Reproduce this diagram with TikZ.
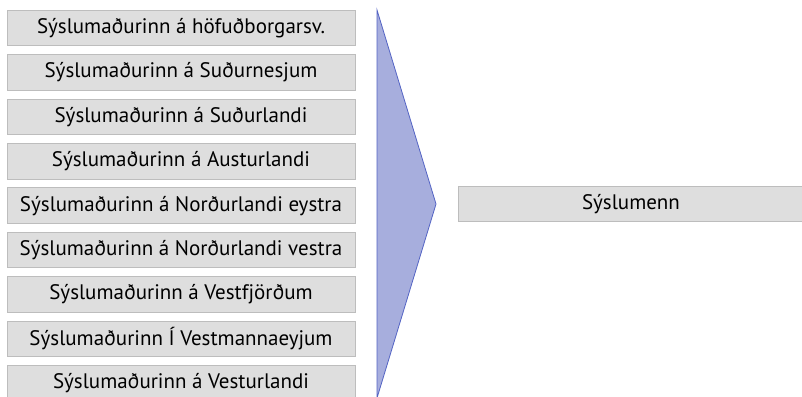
\documentclass[tikz,border=0pt]{standalone}
\usepackage{fontspec}
\setmainfont{PT Sans}
\usetikzlibrary{positioning}
\definecolor{boxfill}{HTML}{DEDEDE}
\definecolor{boxline}{HTML}{BDBDBD}
\definecolor{chevfill}{HTML}{A7AEDD}
\definecolor{chevline}{HTML}{5464C4}

\begin{document}
\begin{tikzpicture}[x=1pt, y=-1pt]
        \useasboundingbox (0,0) rectangle (802,396);
        \clip (0,0) rectangle (802,396);
        % Define styles for shapes
        \tikzstyle{unitbox} = [draw=boxline, fill=boxfill, line width=0.8pt, minimum width=348pt, minimum height=35.5pt, inner sep=0pt, font=\fontsize{21}{23}\selectfont]
        \tikzstyle{chevron} = [draw=chevline, fill=chevfill, line width=0.8pt]
        % Draw shapes
        \node[unitbox] (hofud) at (181, 28) {Sýslumaðurinn á höfuðborgarsv.};
        \node[unitbox] (sudurnes) at (181, 72.4) {Sýslumaðurinn á Suðurnesjum};
        \node[unitbox] (sudurland) at (181, 116.8) {Sýslumaðurinn á Suðurlandi};
        \node[unitbox] (austurland) at (181, 161.2) {Sýslumaðurinn á Austurlandi};
        \node[unitbox] (nordeystra) at (181, 205.6) {Sýslumaðurinn á Norðurlandi eystra};
        \node[unitbox] (nordvestra) at (181, 250) {Sýslumaðurinn á Norðurlandi vestra};
        \node[unitbox] (vestfirdir) at (181, 294.4) {Sýslumaðurinn á Vestfjörðum};
        \node[unitbox] (vestmannaeyjar) at (181, 338.8) {Sýslumaðurinn Í Vestmannaeyjum};
        \node[unitbox] (vesturland) at (181, 383.2) {Sýslumaðurinn á Vesturlandi};

        % Draw merge chevron
        \coordinate (chevtop) at (377, 10);
        \coordinate (chevtip) at (436, 204);
        \coordinate (chevbottom) at (377, 398);
        \draw[chevron] (chevtop) -- (chevtip) -- (chevbottom) -- cycle;

        \node[unitbox, minimum width=346pt, minimum height=35pt] (syslumenn) at (631, 204) {Sýslumenn};
    \end{tikzpicture}
\end{document}
